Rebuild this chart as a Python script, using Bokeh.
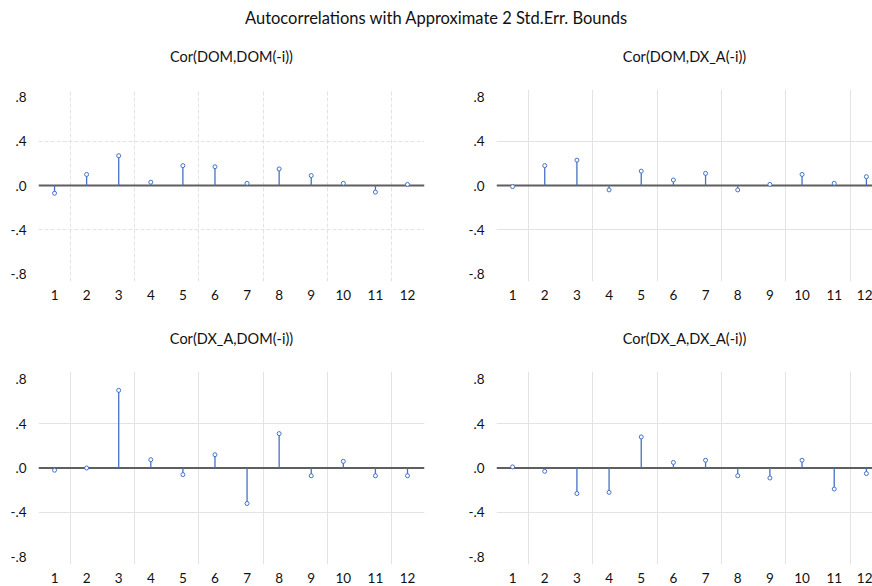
from bokeh.plotting import figure
from bokeh.layouts import column, row
from bokeh.models import FixedTicker, Span, CustomJSTickFormatter, Title
from bokeh.embed import file_html
from bokeh.resources import INLINE

lags = list(range(1, 13))
cor_dom_dom = [-0.07, 0.10, 0.27, 0.03, 0.18, 0.17, 0.02, 0.15, 0.09, 0.02, -0.06, 0.01]
cor_dom_dxa = [-0.01, 0.18, 0.23, -0.04, 0.13, 0.05, 0.11, -0.04, 0.01, 0.10, 0.02, 0.08]
cor_dxa_dom = [-0.02, 0.00, 0.70, 0.075, -0.06, 0.12, -0.32, 0.31, -0.07, 0.06, -0.07, -0.07]
cor_dxa_dxa = [0.01, -0.03, -0.23, -0.22, 0.28, 0.05, 0.07, -0.07, -0.09, 0.07, -0.19, -0.05]
y_ticks = [-0.8, -0.4, 0.0, 0.4, 0.8]
grid_x = [1.5, 3.5, 5.5, 7.5, 9.5, 11.5]
grid_y = [-0.4, 0.4]

main_title = "Autocorrelations with Approximate 2 Std.Err. Bounds"
titles = ["Cor(DOM,DOM(-i))", "Cor(DOM,DX_A(-i))", "Cor(DX_A,DOM(-i))", "Cor(DX_A,DX_A(-i))"]

FONT = "Lato"
BLUE = "#4472C4"
TXT = "#111111"


def panel(title, vals, w, h, mbl, mbr, mbt, mbb, x_end, dashed):
    p = figure(width=w, height=h, x_range=(0.5, x_end), y_range=(-0.87, 0.87),
               output_backend="svg", toolbar_location=None,
               min_border_left=mbl, min_border_right=mbr,
               min_border_top=mbt, min_border_bottom=mbb)
    p.title = None
    # blank spacer title between the frame and the panel title
    p.add_layout(Title(text=" ", standoff=6, text_font=FONT, text_font_size="14.5px"), "above")
    p.add_layout(Title(text=title, align="center", standoff=0, text_font=FONT,
                       text_font_size="14.5px", text_font_style="normal", text_color=TXT), "above")
    p.outline_line_color = None
    p.background_fill_color = "white"
    p.border_fill_color = "white"

    p.xaxis.ticker = FixedTicker(ticks=lags)
    p.yaxis.ticker = FixedTicker(ticks=y_ticks)
    p.yaxis.formatter = CustomJSTickFormatter(code="return tick.toFixed(1).replace('0.', '.');")
    for ax in (p.xaxis, p.yaxis):
        ax.axis_line_color = None
        ax.major_tick_line_color = None
        ax.minor_tick_line_color = None
        ax.major_label_text_font = FONT
        ax.major_label_text_font_size = "13.5px"
        ax.major_label_text_color = TXT
    p.xaxis.major_label_standoff = 2
    p.yaxis.major_label_standoff = 6

    p.xgrid.ticker = FixedTicker(ticks=grid_x)
    p.ygrid.ticker = FixedTicker(ticks=grid_y)
    for g in (p.xgrid, p.ygrid):
        g.grid_line_color = "#e3e3e3"
        g.grid_line_width = 1
        if dashed:
            g.grid_line_dash = "4 2"

    zero = Span(location=0, dimension="width", line_color="#5f5f5f", line_width=2, level="underlay")
    p.add_layout(zero)
    p.segment(x0=lags, y0=[0] * len(lags), x1=lags, y1=vals, line_color=BLUE, line_width=1.3)
    p.scatter(x=lags, y=vals, size=4, marker="circle", line_color=BLUE, fill_color="white", line_width=1)
    return p


head = figure(width=872, height=32, output_backend="svg", toolbar_location=None,
              min_border=0, x_range=(0, 1), y_range=(0, 1))
head.title.text = main_title
head.title.align = "center"
head.title.text_font = FONT
head.title.text_font_size = "16.5px"
head.title.text_font_style = "normal"
head.title.text_color = TXT
head.axis.visible = False
head.grid.visible = False
head.outline_line_color = None

p1 = panel(titles[0], cor_dom_dom, 460, 273, 38, 36, 57, 24, 12.53, True)
p2 = panel(titles[1], cor_dom_dxa, 412, 273, 36, 0, 57, 24, 12.19, False)
p3 = panel(titles[2], cor_dxa_dom, 460, 281, 38, 36, 66, 22, 12.53, False)
p4 = panel(titles[3], cor_dxa_dxa, 412, 281, 36, 0, 66, 22, 12.19, False)

layout = column(head, row(p1, p2), row(p3, p4))
open("out.html", "w").write(file_html(layout, INLINE))
